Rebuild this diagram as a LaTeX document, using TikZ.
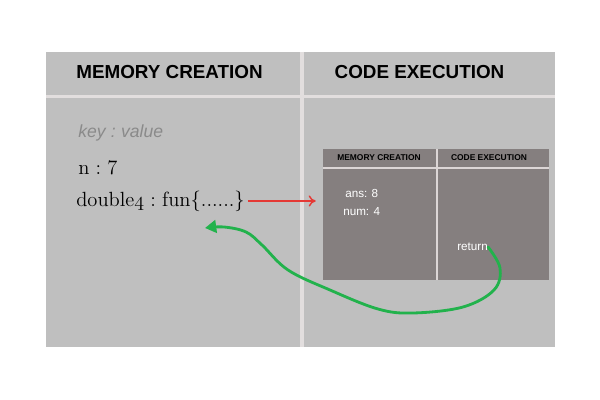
\documentclass[tikz,border=0pt]{standalone}
\usepackage{fontspec}
\setsansfont{Liberation Sans}
\usetikzlibrary{arrows.meta,positioning}
\definecolor{PanelGrey}{HTML}{BFBFBF}
\definecolor{RuleGrey}{HTML}{E2DEDE}
\definecolor{BoxGrey}{HTML}{857F7F}
\definecolor{BoxRule}{HTML}{DCD6D6}
\definecolor{KeyGrey}{HTML}{8A8A8A}
\definecolor{LinkRed}{HTML}{E53935}
\definecolor{ReturnGreen}{HTML}{22B24C}
\newcommand{\oldfour}{{\fontencoding{OML}\fontfamily{cmm}\fontseries{m}\fontshape{it}\selectfont 4}}
\newcommand{\tsp}{\hspace{0.3em}}
\tikzset{
    % Column headers of the big table
    headnode/.style={
        inner sep=0pt,
        text=black,
        font=\sffamily\bfseries\fontsize{13.4}{15}\selectfont
    },
    % Column headers of the small table
    miniheadnode/.style={
        headnode,
        font=\sffamily\bfseries\fontsize{6}{7}\selectfont
    },
    % Entries in the global memory
    entrynode/.style={
        anchor=west,
        inner sep=0pt,
        text=black,
        font=\fontsize{14.6}{16}\selectfont
    },
    % Entries inside the function context
    localnode/.style={
        anchor=west,
        inner sep=0pt,
        text=white,
        font=\sffamily\fontsize{8.3}{10}\selectfont
    },
    % Table rules
    bigrule/.style={draw=RuleGrey, line width=2.4pt},
    minirule/.style={draw=BoxRule, line width=1.2pt},
    % Arrow styles
    callarrow/.style={
        -{To[length=5pt,width=8pt]},
        line width=1pt,
        draw=LinkRed
    },
    returnarrow/.style={
        -{Triangle[length=8pt,width=9pt]},
        line width=2pt,
        draw=ReturnGreen,
        line cap=round
    }
}

\begin{document}
\begin{tikzpicture}[x=0.025cm, y=-0.025cm]
        \useasboundingbox (0,0) rectangle (600,400);

        % Global execution context
        \fill[PanelGrey] (46,52) rectangle (555,347);
        \draw[bigrule] (46,96.5) -- (555,96.5);
        \draw[bigrule] (302,52) -- (302,347);
        \node[headnode] (memhead) at (169.5,72) {MEMORY CREATION};
        \node[headnode] (codehead) at (419.5,72) {CODE EXECUTION};

        % Global memory
        \node[entrynode, font=\sffamily\itshape\fontsize{12.5}{14}\selectfont, text=KeyGrey] (keyval) at (78,133) {key\tsp:\tsp value};
        \node[entrynode] (nval) at (78,168) {n\tsp:\tsp 7};
        \node[entrynode] (dbl) at (76,201) {double\oldfour\tsp:\tsp fun\{......\}};

        % Function execution context
        \node[fill=BoxGrey, inner sep=0pt, minimum width=226*0.025cm, minimum height=131*0.025cm] (minibox) at (436,214.5) {};
        \draw[minirule] (minibox.west |- 0,168) -- (minibox.east |- 0,168);
        \draw[minirule] (437,149) -- (437,280);
        \node[miniheadnode] (minimem) at (379,158) {MEMORY CREATION};
        \node[miniheadnode] (minicode) at (489,158) {CODE EXECUTION};
        \node[localnode] (ans) at (345,193) {ans: 8};
        \node[localnode] (num) at (343,212) {num: 4};
        \node[localnode] (ret) at (457,247) {return};

        % Call and return
        \coordinate (back) at (205,228);
        \draw[callarrow] (dbl.east) ++(3,0) -- ([xshift=-5]minibox.west |- dbl.east);
        \draw[returnarrow] plot[smooth, tension=0.6] coordinates {(ret.east) (500,268) (494,290) (463,307) (413,313) (378,309) (330,290) (288,270) (262,245) (246,232) (224,227) (back)};
    \end{tikzpicture}
\end{document}
